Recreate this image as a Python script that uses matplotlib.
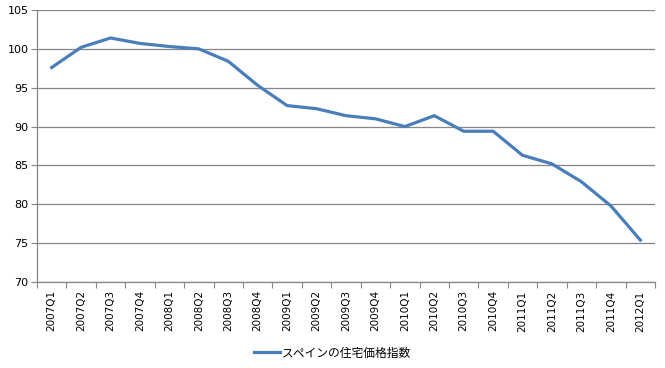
import matplotlib
matplotlib.use("Agg")
import matplotlib.pyplot as plt
import numpy as np

plt.rcParams['font.family'] = ['DejaVu Sans', 'Noto Sans CJK JP']

categories = ["2007Q1", "2007Q2", "2007Q3", "2007Q4", "2008Q1", "2008Q2", "2008Q3",
              "2008Q4", "2009Q1", "2009Q2", "2009Q3", "2009Q4", "2010Q1", "2010Q2",
              "2010Q3", "2010Q4", "2011Q1", "2011Q2", "2011Q3", "2011Q4", "2012Q1"]
values = [97.6, 100.2, 101.4, 100.7, 100.3, 100.0, 98.4, 95.3, 92.7, 92.3, 91.4,
          91.0, 90.0, 91.4, 89.4, 89.4, 86.3, 85.2, 82.9, 79.8, 75.4]
series_name = "スペインの住宅価格指数"
yticks = [70, 75, 80, 85, 90, 95, 100, 105]

fig = plt.figure(figsize=(6.65, 3.68), dpi=100)
ax = fig.add_axes([37/665, 1-282/368, (655-37)/665, (282-10)/368])

x = np.arange(len(categories))
ax.plot(x, values, color='#4a7ebb', linewidth=2.3, label=series_name,
        solid_joinstyle='round')

ax.set_xlim(-0.5, len(categories) - 0.5)
ax.set_ylim(70, 105)
ax.set_yticks(yticks)
ax.yaxis.grid(True, color='#868686', linewidth=0.9)
ax.set_axisbelow(True)

ax.set_xticks(np.arange(-0.5, len(categories), 1.0))
ax.set_xticklabels([])
ax.set_xticks(x, minor=True)
ax.set_xticklabels(categories, minor=True, rotation=90, fontsize=7.5)
ax.tick_params(axis='x', which='major', length=4, color='#868686', direction='out')
ax.tick_params(axis='x', which='minor', length=0, pad=6)
ax.tick_params(axis='y', length=4, color='#868686', labelsize=8, pad=2)

for s in ['top', 'right']:
    ax.spines[s].set_visible(False)
for s in ['left', 'bottom']:
    ax.spines[s].set_color('#868686')
    ax.spines[s].set_linewidth(0.9)

leg = fig.legend(loc='center', bbox_to_anchor=(0.5, 1-353/368), frameon=False,
                 prop={'family': ['Noto Sans CJK JP', 'DejaVu Sans'], 'size': 8.5},
                 handlelength=2.2, handletextpad=0.1)

fig.savefig('out.png', dpi=100)
